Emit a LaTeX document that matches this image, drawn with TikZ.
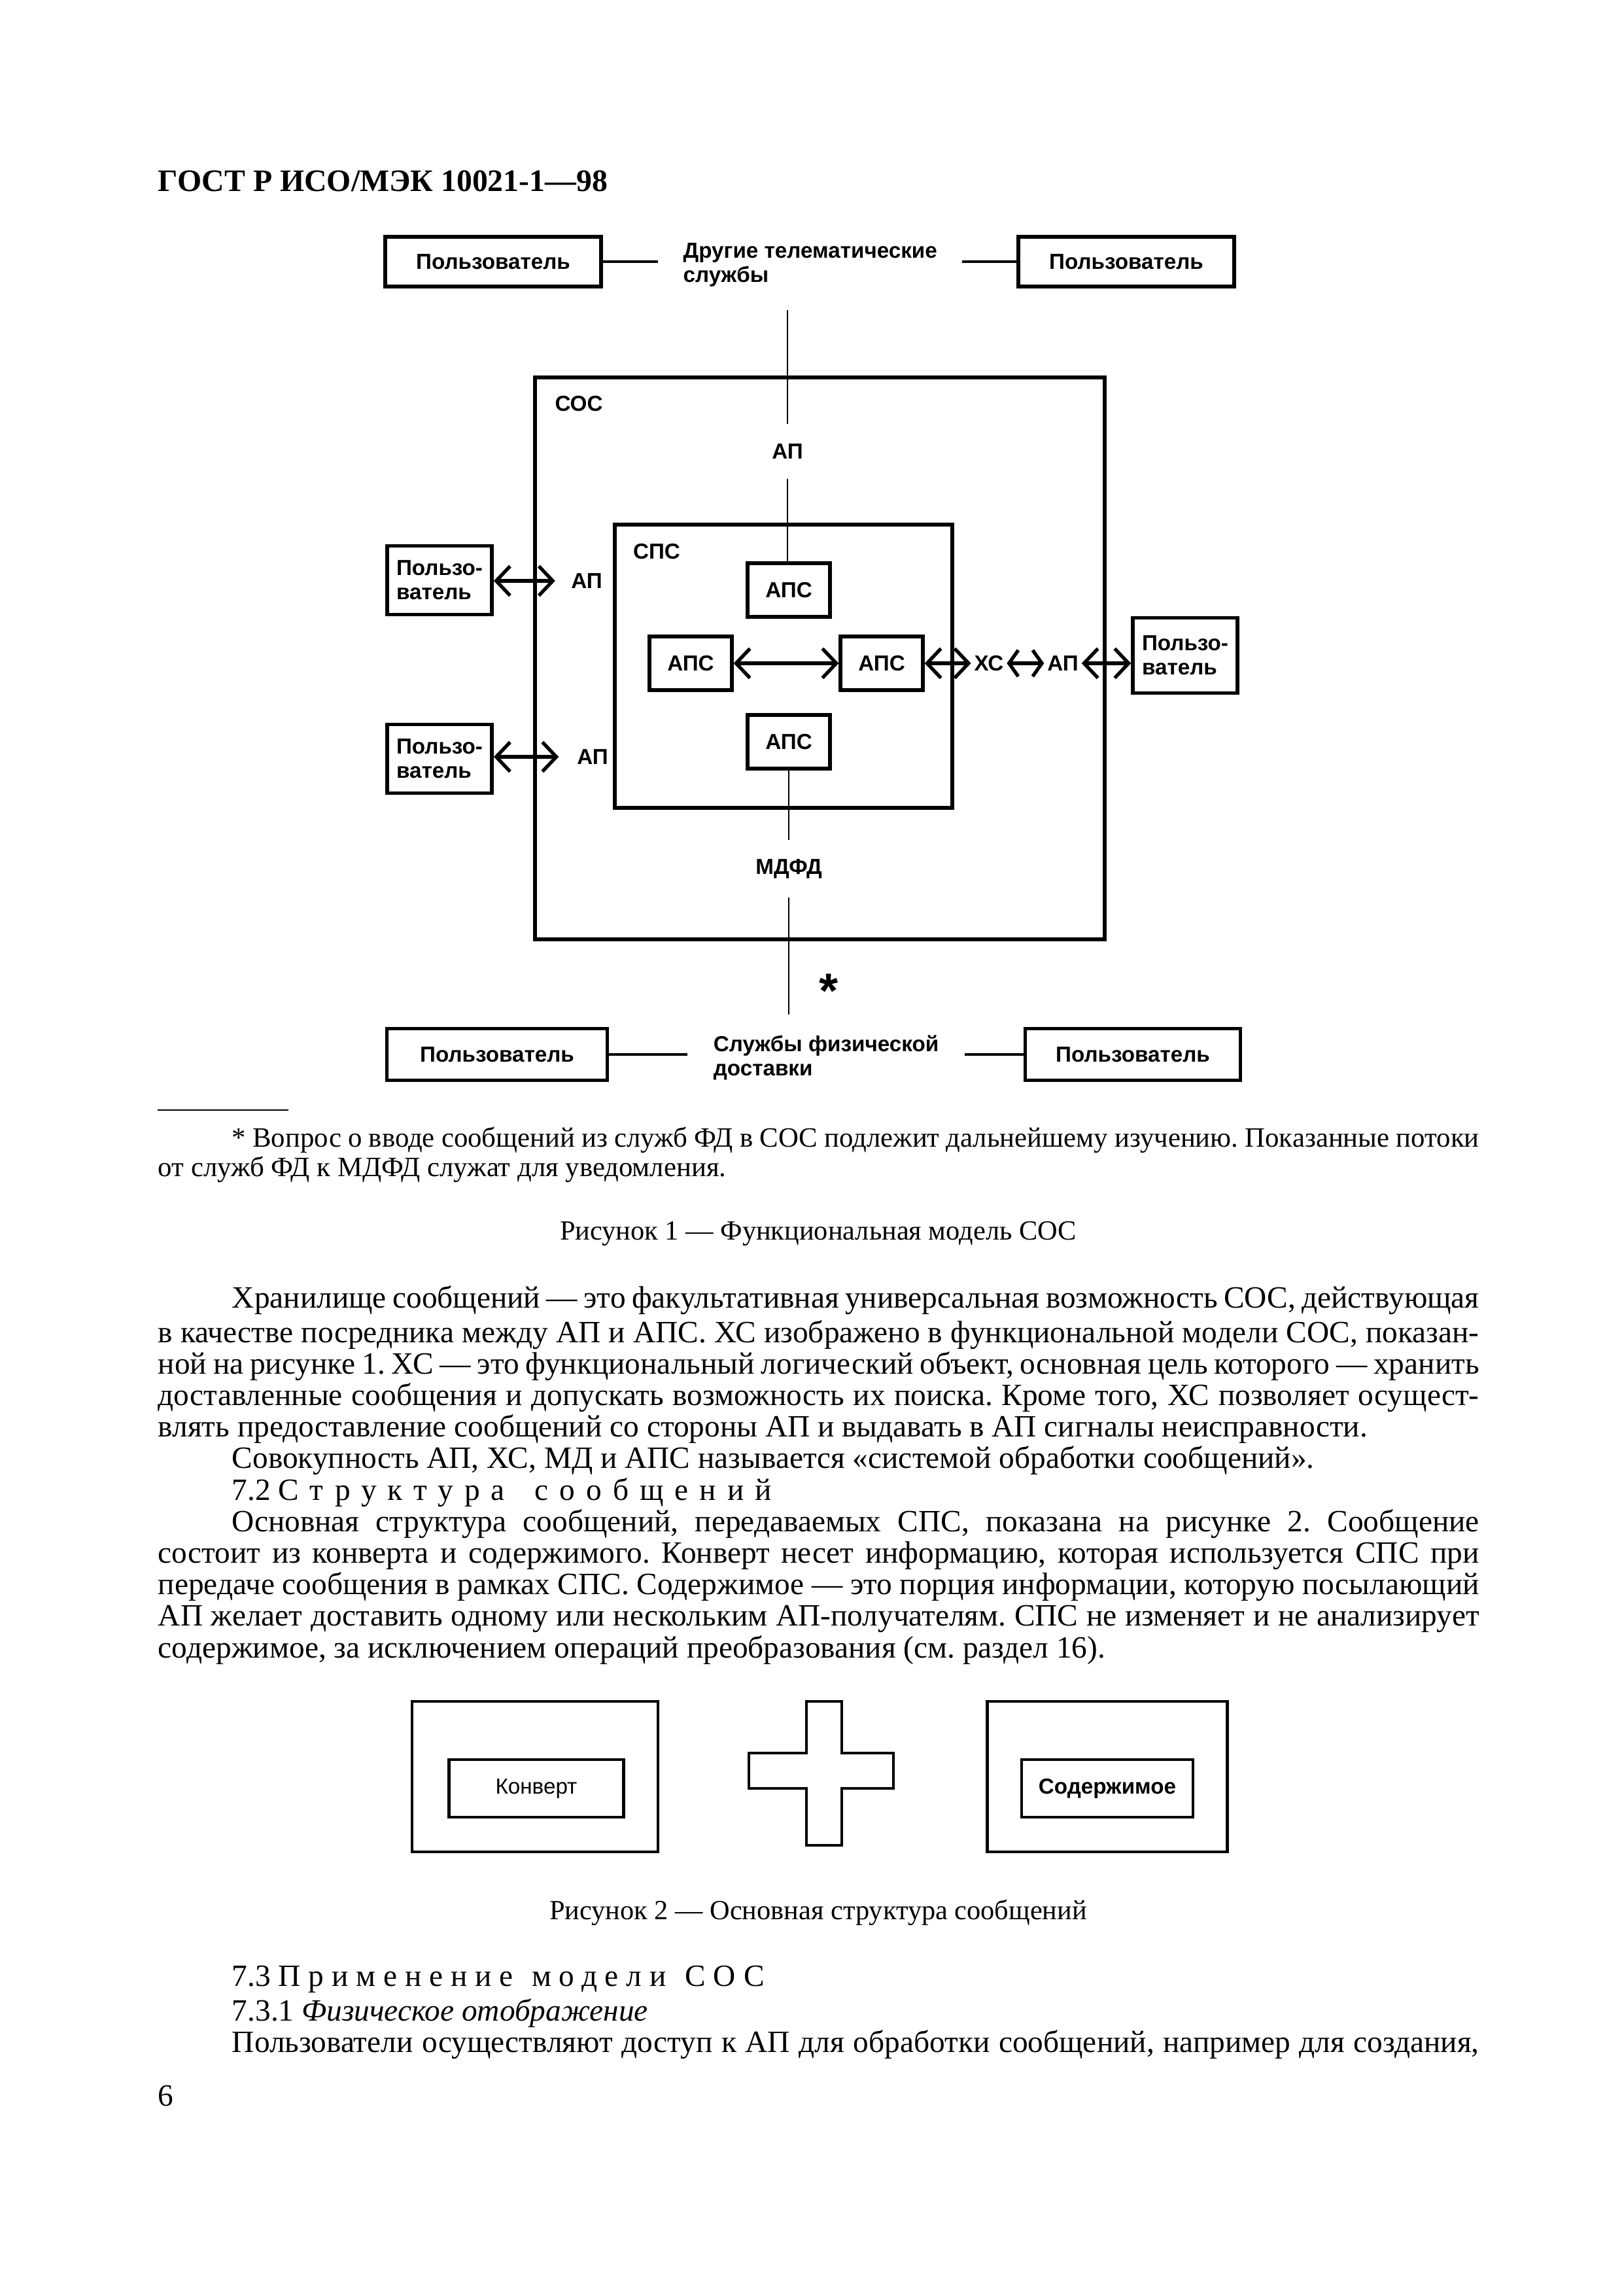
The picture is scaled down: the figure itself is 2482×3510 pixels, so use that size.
\documentclass[tikz,border=0pt]{standalone}
\usepackage{fontspec}
\setmainfont{Liberation Serif}
\setsansfont{Liberation Sans}
\newfontfamily\razryadka[LetterSpace=36]{Liberation Serif}
\newfontfamily\razryadkaM[LetterSpace=25]{Liberation Serif}
\usetikzlibrary{arrows.meta,positioning}
\newdimen\dpx \dpx=0.08461mm
\newlength\tekstW \setlength\tekstW{170.9mm}
\newlength\abzac \setlength\abzac{9.56mm}
\frenchspacing

\begin{document}
\begin{tikzpicture}[x=\dpx, y=-\dpx,
    every node/.style={font=\sffamily\bfseries\fontsize{8}{9}\selectfont},
    polz/.style={draw, line width=0.5mm, minimum width=330*\dpx, minimum height=76*\dpx},
    polzM/.style={draw, line width=0.5mm, minimum width=160*\dpx, minimum height=105*\dpx, align=left},
    aps/.style={draw, line width=0.45mm, minimum width=126*\dpx, minimum height=82*\dpx},
    sistema/.style={draw, line width=0.45mm},
    metka/.style={inner sep=1pt},
    svyaz/.style={line width=0.25mm},
    svyazT/.style={line width=0.42mm},
    potok/.style={line width=0.45mm, {Straight Barb[length=1.8mm,width=3.8mm]}-{Straight Barb[length=1.8mm,width=3.8mm]}},
    potokK/.style={line width=0.45mm, {Straight Barb[length=1.2mm,width=3.4mm]}-{Straight Barb[length=1.2mm,width=3.4mm]}},
    tekst/.style={font=\rmfamily\fontsize{11.4}{11.6}\selectfont, inner sep=0pt},
    podpis/.style={font=\rmfamily\fontsize{10.2}{11.6}\selectfont, inner sep=0pt}
]
\useasboundingbox (0,0) rectangle (2482,3510);
% Заголовок страницы
\node[anchor=west, inner sep=0pt, font=\rmfamily\bfseries\fontsize{11.5}{14}\selectfont] (zagolovok) at (241,277) {ГОСТ Р ИСО/МЭК 10021-1—98};
% Другие телематические службы
\node[polz] (polzTL) at (754,400) {Пользователь};
\node[polz] (polzTR) at (1722,400) {Пользователь};
\node[metka, inner xsep=3.2mm, align=left, anchor=west] (telem) at (1006,405) {Другие телематические\\службы};
\draw[svyazT] (polzTL.east) -- (polzTL.east -| telem.west);
\draw[svyazT] (telem.east |- polzTR.west) -- (polzTR.west);
% СОС
\node[sistema, minimum width=871*\dpx, minimum height=859*\dpx] (sos) at (1253.5,1006.5) {};
\node (sosMetka) at (885,617) {СОС};
\coordinate (verh) at (1204,474);
\node[metka, inner ysep=2.5mm] (apT) at (1204,690) {АП};
% СПС
\node[sistema, minimum width=516*\dpx, minimum height=433*\dpx] (sps) at (1198,1018.5) {};
\node (spsMetka) at (1004,843) {СПС};
\node[aps] (apsT) at (1206,902) {АПС};
\node[aps] (apsL) at (1056,1014) {АПС};
\node[aps] (apsR) at (1348,1014) {АПС};
\node[aps] (apsB) at (1206,1134) {АПС};
\draw[svyaz] (verh) -- (apT);
\draw[svyaz] (apT) -- (apT |- apsT.north);
\draw[potok] (apsL) -- (apsR);
% Пользователи слева
\node[polzM] (polzL1) at (672,887) {Пользо-\\ватель};
\node[polzM] (polzL2) at (672,1160) {Пользо-\\ватель};
\node[metka, inner xsep=2mm] (apL1) at (897,888) {АП};
\node[metka, inner xsep=2.3mm] (apL2) at (906,1157) {АП};
\draw[potok] (polzL1.east |- apL1) -- (apL1);
\draw[potok] (polzL2.east |- apL2) -- (apL2);
% Пользователь справа
\node[polzM, minimum width=156*\dpx, minimum height=115*\dpx] (polzR) at (1812,1002) {Пользо-\\ватель};
\node[metka] (hs) at (1512,1014) {ХС};
\node[metka] (apR) at (1625,1014) {АП};
\draw[potok] (apsR) -- (hs);
\draw[potokK] (hs) -- (apR);
\draw[potok] (apR) -- (apR -| polzR.west);
% МДФД
\node[metka, inner ysep=2.4mm] (mdfd) at (1206,1328) {МДФД};
\coordinate (niz) at (1206,1551);
\draw[svyaz] (apsB) -- (mdfd);
\draw[svyaz] (mdfd) -- (niz);
\node[font=\sffamily\bfseries\fontsize{18}{18}\selectfont] (zvezda) at (1267,1515) {*};
% Службы физической доставки
\node[polz, minimum width=337*\dpx, minimum height=79*\dpx] (polzBL) at (760,1612) {Пользователь};
\node[polz, minimum width=329*\dpx, minimum height=79*\dpx] (polzBR) at (1732,1612) {Пользователь};
\node[metka, inner xsep=3.3mm, align=left, anchor=west] (fizd) at (1051,1617) {Службы физической\\доставки};
\draw[svyazT] (polzBL.east) -- (polzBL.east -| fizd.west);
\draw[svyazT] (fizd.east |- polzBR.west) -- (polzBR.west);
% Сноска
\coordinate (snoskaL) at (241,1697);
\coordinate (snoskaR) at (441,1697);
\draw[line width=0.25mm] (snoskaL) -- (snoskaR);
\node[tekst, font=\rmfamily\fontsize{10.3}{10.8}\selectfont, anchor=north west, text width=\tekstW, align=justify] (snoska) at (241,1721)
  {\strut\hspace*{\abzac}* Вопрос о вводе сообщений из служб ФД в СОС подлежит дальнейшему изучению. Показанные потоки\linebreak
   от служб ФД к МДФД служат для уведомления.};
\node[podpis] (ris1) at (1251,1886) {Рисунок 1 — Функциональная модель СОС};
% Текст
\node[tekst, anchor=north west, text width=\tekstW, align=justify] (abz1) at (241,1965)
  {\strut\hspace*{\abzac}Хранилище сообщений — это факультативная универсальная возможность СОС, действующая\linebreak
   в качестве посредника между АП и АПС. ХС изображено в функциональной модели СОС, показан-\linebreak
   ной на рисунке 1. ХС — это функциональный логический объект, основная цель которого — хранить\linebreak
   доставленные сообщения и допускать возможность их поиска. Кроме того, ХС позволяет осущест-\linebreak
   влять предоставление сообщений со стороны АП и выдавать в АП сигналы неисправности.\par
   \hspace*{\abzac}Совокупность АП, ХС, МД и АПС называется «системой обработки сообщений».\par
   \hspace*{\abzac}7.2 {\razryadka Структура\hspace{0.35em} сообщений}\par
   \hspace*{\abzac}Основная структура сообщений, передаваемых СПС, показана на рисунке 2. Сообщение\linebreak
   состоит из конверта и содержимого. Конверт несет информацию, которая используется СПС при\linebreak
   передаче сообщения в рамках СПС. Содержимое — это порция информации, которую посылающий\linebreak
   АП желает доставить одному или нескольким АП-получателям. СПС не изменяет и не анализирует\linebreak
   содержимое, за исключением операций преобразования (см. раздел 16).};
% Структура сообщений
\node[sistema, line width=0.4mm, minimum width=376*\dpx, minimum height=230*\dpx] (konvertV) at (818,2716) {};
\node[sistema, line width=0.4mm, minimum width=267*\dpx, minimum height=88*\dpx, font=\sffamily\fontsize{8}{9}\selectfont] (konvert) at (820,2734) {Конверт};
\node[sistema, line width=0.4mm, minimum width=367*\dpx, minimum height=230*\dpx] (soderV) at (1693,2716) {};
\node[sistema, line width=0.4mm, minimum width=262*\dpx, minimum height=88*\dpx] (soder) at (1693,2734) {Содержимое};
\draw[line width=0.4mm] (1233,2601) -- (1287,2601) -- (1287,2680) -- (1366,2680) -- (1366,2734) -- (1287,2734)
  -- (1287,2821) -- (1233,2821) -- (1233,2734) -- (1145,2734) -- (1145,2680) -- (1233,2680) -- cycle;
\node[podpis] (ris2) at (1251,2924) {Рисунок 2 — Основная структура сообщений};
% Применение модели
\node[tekst, anchor=north west, text width=\tekstW, align=justify] (abz2) at (241,3002)
  {\strut\hspace*{\abzac}7.3 {\razryadkaM Применение\hspace{0.1em} модели\hspace{0.1em} СОС}\par
   \hspace*{\abzac}7.3.1 \textit{Физическое отображение}\par
   \hspace*{\abzac}Пользователи осуществляют доступ к АП для обработки сообщений, например для создания,\linebreak\mbox{}};
\node[tekst, anchor=west] (stranica) at (241,3204) {6};
\end{tikzpicture}
\end{document}
